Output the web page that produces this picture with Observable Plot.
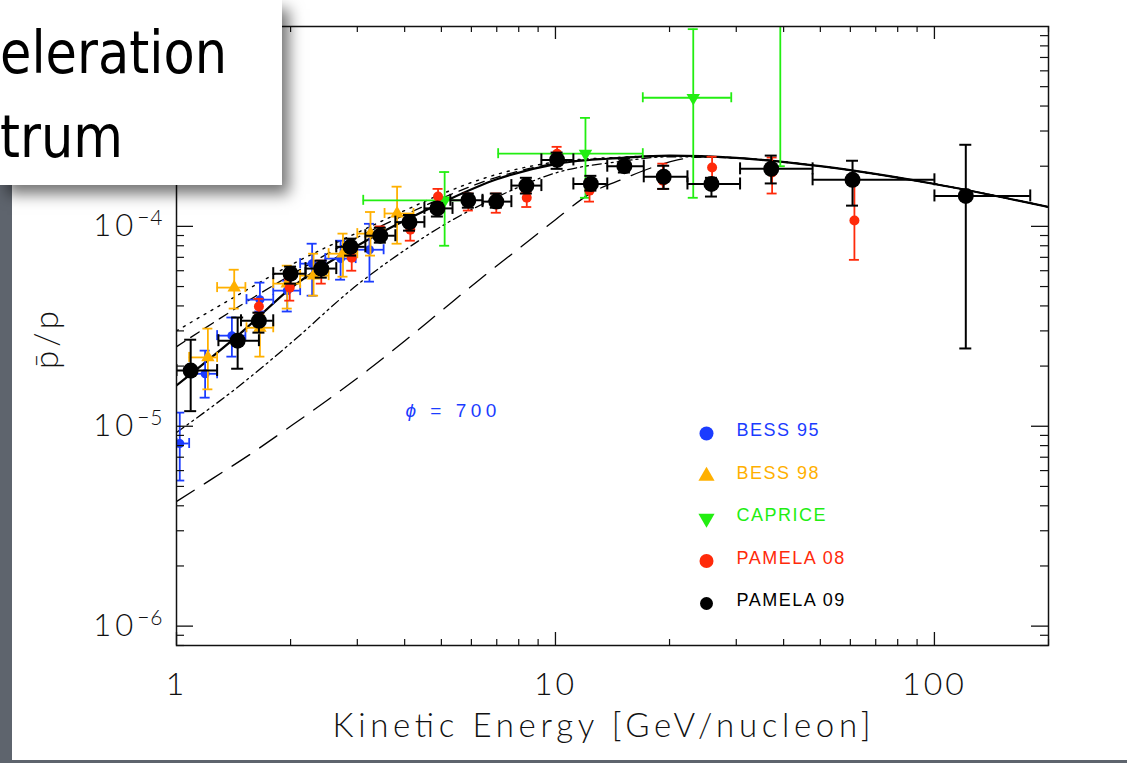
<!DOCTYPE html>
<html>
<head>
<meta charset="utf-8">
<script src="https://cdn.jsdelivr.net/npm/d3@7"></script>
<script src="https://cdn.jsdelivr.net/npm/@observablehq/plot@0.6"></script>
<style>
html,body{margin:0;padding:0;}
body{width:1127px;height:763px;background:#5e646d;position:relative;overflow:hidden;}
#panel{position:absolute;left:12px;top:0;width:1115px;height:760px;background:#fff;}
#chart{position:absolute;left:0;top:0;}
#titlebox{position:absolute;left:0;top:0;width:282px;height:185px;background:#fff;
  box-shadow:7px 9px 14px rgba(0,0,0,0.55);overflow:hidden;z-index:5;
  font-family:"DejaVu Sans",sans-serif;font-size:58px;line-height:1;color:#000;}
#titlebox .t{position:absolute;left:0;white-space:nowrap;transform:scaleX(0.88);transform-origin:0 0;}
#titlebox .t1{top:24px;}
#titlebox .t2{top:108px;}
</style>
</head>
<body>
<div id="panel"></div>
<div id="chart"></div>
<div id="titlebox"><div class="t t1">eleration</div><div class="t t2">trum</div></div>
<script>
// ---------- data (kinetic energy in GeV/nucleon, ratio pbar/p) ----------
// PAMELA 09
const pam09E   = [1.09,1.45,1.65,2.0,2.41,2.88,3.45,4.12,4.88,5.89,6.98,8.38,10.1,12.4,15.2,19.3,25.8,37.1,60.8,121];
const pam09ELo = [1.0,1.29,1.48,1.80,2.19,2.64,3.15,3.78,4.51,5.28,6.42,7.65,9.18,11.15,13.7,17.1,22.3,30.7,47.7,100];
const pam09EHi = [1.28,1.65,1.80,2.19,2.64,3.15,3.78,4.51,5.35,6.42,7.65,9.18,11.15,13.7,17.1,22.3,30.7,47.7,100,179];
const pam09R   = [1.9e-5,2.68e-5,3.37e-5,5.8e-5,6.15e-5,7.9e-5,8.98e-5,1.05e-4,1.23e-4,1.35e-4,1.33e-4,1.6e-4,2.15e-4,1.63e-4,2.0e-4,1.77e-4,1.63e-4,1.94e-4,1.71e-4,1.42e-4];
const pam09RLo = [1.19e-5,1.94e-5,2.94e-5,5.17e-5,5.54e-5,7.14e-5,8.29e-5,9.52e-5,1.12e-4,1.24e-4,1.24e-4,1.46e-4,1.94e-4,1.51e-4,1.86e-4,1.54e-4,1.41e-4,1.64e-4,1.27e-4,2.45e-5];
const pam09RHi = [2.71e-5,3.50e-5,3.70e-5,6.29e-5,6.74e-5,8.68e-5,9.85e-5,1.14e-4,1.31e-4,1.46e-4,1.46e-4,1.75e-4,2.34e-4,1.79e-4,2.18e-4,2.01e-4,1.75e-4,2.26e-4,2.13e-4,2.56e-4];

// PAMELA 08
const pam08E   = [1.65,1.99,2.41,2.9,3.45,4.14,4.9,5.89,6.98,8.4,10.1,12.3,19.2,25.9,37.3,61.5];
const pam08R   = [3.97e-5,4.94e-5,6.29e-5,6.97e-5,9.3e-5,9.63e-5,1.41e-4,1.37e-4,1.34e-4,1.39e-4,2.31e-4,1.51e-4,1.69e-4,1.97e-4,1.86e-4,1.07e-4];
const pam08RLo = [3.70e-5,4.25e-5,5.17e-5,6.0e-5,8.4e-5,8.48e-5,1.31e-4,1.2e-4,1.17e-4,1.25e-4,2.13e-4,1.33e-4,1.54e-4,1.69e-4,1.46e-4,6.8e-5];
const pam08RHi = [4.34e-5,5.41e-5,6.74e-5,7.74e-5,1.0e-4,1.07e-4,1.54e-4,1.46e-4,1.46e-4,1.47e-4,2.50e-4,1.64e-4,2.06e-4,2.23e-4,2.21e-4,1.69e-4];

// BESS 95
const bess95E   = [1.02,1.19,1.40,1.66,1.96,2.28,2.71,3.23];
const bess95ELo = [1.0,1.10,1.28,1.53,1.80,2.12,2.47,2.97];
const bess95EHi = [1.08,1.28,1.52,1.80,2.12,2.47,2.97,3.52];
const bess95R   = [8.2e-6,1.83e-5,2.84e-5,4.3e-5,4.77e-5,6.51e-5,6.9e-5,7.64e-5];
const bess95RLo = [5.35e-6,1.39e-5,2.23e-5,3.75e-5,3.75e-5,4.5e-5,5.41e-5,5.29e-5];
const bess95RHi = [1.17e-5,2.39e-5,3.50e-5,5.23e-5,5.35e-5,8.19e-5,8.48e-5,1.03e-4];

// BESS 98
const bess98E   = [1.21,1.42,1.66,1.96,2.3,2.75,3.25,3.82];
const bess98ELo = [1.08,1.28,1.53,1.80,2.12,2.52,3.0,3.54];
const bess98EHi = [1.28,1.52,1.80,2.12,2.52,3.0,3.54,4.22];
const bess98R   = [2.21e-5,4.94e-5,3.11e-5,5.17e-5,5.67e-5,7.3e-5,9.2e-5,1.16e-4];
const bess98RLo = [1.53e-5,3.88e-5,2.23e-5,3.88e-5,4.5e-5,5.6e-5,7.14e-5,8.19e-5];
const bess98RHi = [3.08e-5,6.07e-5,3.6e-5,6.36e-5,7.3e-5,9.2e-5,1.18e-4,1.58e-4];

// CAPRICE
const capriceE   = [5.1,12.0,23.1,39.2];
const capriceELo = [3.11,7.06,17.0,29.1];
const capriceEHi = [5.97,17.0,29.1,52];
const capriceR   = [1.35e-4,2.31e-4,4.4e-4,1.5e-3];
const capriceRLo = [8.0e-5,1.39e-4,1.39e-4,2.0e-4];
const capriceRHi = [1.87e-4,3.49e-4,9.7e-4,3e-3];

// model curves
const modelE      = [1,1.5,2,3,4,5,7,10,15,20,30,50,100,200];
const modelSolid  = [1.6e-5,3.0e-5,4.9e-5,8.0e-5,1.07e-4,1.31e-4,1.72e-4,2.05e-4,2.2e-4,2.26e-4,2.2e-4,2.0e-4,1.63e-4,1.25e-4];
const modelDotted = [3.0e-5,4.7e-5,6.4e-5,9.3e-5,1.2e-4,1.45e-4,1.82e-4,2.1e-4,2.22e-4,2.26e-4,2.2e-4,2.0e-4,1.63e-4,1.25e-4];
const modelShortDash = [2.5e-5,4.1e-5,5.7e-5,8.8e-5,1.14e-4,1.38e-4,1.76e-4,2.07e-4,2.21e-4,2.26e-4,2.2e-4,2.0e-4,1.63e-4,1.25e-4];
const modelDashDot = [9.3e-6,1.65e-5,2.6e-5,5.1e-5,7.6e-5,1.0e-4,1.4e-4,1.85e-4,2.12e-4,2.23e-4,2.2e-4,2.0e-4,1.63e-4,1.25e-4];
const longDashE   = [1,1.25,1.6,2,2.5,3.2,4,5,6.3,8,10,12.5,15,18,21,25,30,50,100,200];
const longDashR   = [4.2e-6,5.5e-6,7.45e-6,1.0e-5,1.35e-5,1.91e-5,2.67e-5,3.78e-5,5.41e-5,7.74e-5,1.08e-4,1.48e-4,1.72e-4,1.97e-4,2.15e-4,2.23e-4,2.2e-4,2.0e-4,1.63e-4,1.25e-4];

// axis ticks
const xMajor = [1,10,100];
const yMajor = [1e-6,1e-5,1e-4];

// legend
const legendNames   = ["BESS 95","BESS 98","CAPRICE","PAMELA 08","PAMELA 09"];
const legendColors  = ["#1b3cff","#ffb000","#22ee11","#ff2a0a","#000000"];
const legendSymbols = ["circle","triangle","triangle","circle","circle"];
const legendRotate  = [0,0,180,0,0];
const phiLabel = "ϕ = 700";
const xTitle = "Kinetic Energy [GeV/nucleon]";
const yTitle = "p̄/p";

// ---------- build ----------
const mk = (E, R, lo, hi, elo, ehi) => E.map((e,i)=>({e, r:R[i], lo:lo[i], hi:hi[i], elo: elo? elo[i]:null, ehi: ehi? ehi[i]:null}));
const pam09 = mk(pam09E,pam09R,pam09RLo,pam09RHi,pam09ELo,pam09EHi);
const pam08 = mk(pam08E,pam08R,pam08RLo,pam08RHi);
const bess95 = mk(bess95E,bess95R,bess95RLo,bess95RHi,bess95ELo,bess95EHi);
const bess98 = mk(bess98E,bess98R,bess98RLo,bess98RHi,bess98ELo,bess98EHi);
const caprice = mk(capriceE,capriceR,capriceRLo,capriceRHi,capriceELo,capriceEHi);
const curve = (E,R) => E.map((e,i)=>({e, r:R[i]}));

const xMinor = [], yMinor = [];
for (const k of [1,10,100]) for (let m=2;m<=9;m++) if (m*k<=200) xMinor.push(m*k);
for (const k of [1e-7,1e-6,1e-5,1e-4]) for (let m=2;m<=9;m++) { const v=m*k; if (v>=8e-7 && v<=1e-3) yMinor.push(v); }

const W = 1127, H = 763, mL = 176, mR = 79, mT = 26, mB = 118;
const FW = W - mL - mR, FH = H - mT - mB;

function errMarks(data, color, capW, hbars, sw=1.8) {
  const m = [
    Plot.ruleX(data, {x:"e", y1:"lo", y2:"hi", stroke:color, strokeWidth:sw, clip:true}),
    Plot.ruleY(data, {y:"lo", x1:"e", x2:"e", insetLeft:-capW, insetRight:-capW, stroke:color, strokeWidth:sw, clip:true}),
    Plot.ruleY(data, {y:"hi", x1:"e", x2:"e", insetLeft:-capW, insetRight:-capW, stroke:color, strokeWidth:sw, clip:true})
  ];
  if (hbars) {
    m.push(Plot.ruleY(data, {y:"r", x1:"elo", x2:"ehi", stroke:color, strokeWidth:sw, clip:true}));
    m.push(Plot.ruleX(data, {x:"elo", y1:"r", y2:"r", insetTop:-capW, insetBottom:-capW, stroke:color, strokeWidth:sw, clip:true}));
    m.push(Plot.ruleX(data, {x:"ehi", y1:"r", y2:"r", insetTop:-capW, insetBottom:-capW, stroke:color, strokeWidth:sw, clip:true}));
  }
  return m;
}

const lineMarks = [
  Plot.line(curve(longDashE,longDashR), {x:"e", y:"r", stroke:"#000", strokeWidth:1.3, strokeDasharray:"21,12", curve:"monotone-x", clip:true}),
  Plot.line(curve(modelE,modelDashDot), {x:"e", y:"r", stroke:"#000", strokeWidth:1.3, strokeDasharray:"9,4,2,4,2,4", curve:"monotone-x", clip:true}),
  Plot.line(curve(modelE,modelDotted), {x:"e", y:"r", stroke:"#000", strokeWidth:1.4, strokeDasharray:"2,6", curve:"monotone-x", clip:true}),
  Plot.line(curve(modelE,modelShortDash), {x:"e", y:"r", stroke:"#000", strokeWidth:1.3, strokeDasharray:"10,7", curve:"monotone-x", clip:true}),
  Plot.line(curve(modelE,modelSolid), {x:"e", y:"r", stroke:"#000", strokeWidth:2.2, curve:"monotone-x", clip:true})
];

const legendMarks = [];
legendNames.forEach((name,i)=>{
  const dy = 407 + i*42.5;
  legendMarks.push(Plot.dot([name], {frameAnchor:"top-left", dx:530, dy, r: i===4?6.5:(i===0||i===3?7:6),
    symbol: legendSymbols[i], rotate: legendRotate[i], fill: legendColors[i], stroke:"none"}));
  legendMarks.push(Plot.text([name], {frameAnchor:"top-left", lineAnchor:"middle", dx:560, dy: dy-3, text:d=>d, textAnchor:"start",
    fill: legendColors[i], fontSize:18, fontFamily:"Liberation Sans"}));
});

const tickRules = [
  Plot.ruleX(xMajor, {x:d=>d, insetTop:FH-13, stroke:"#111", strokeWidth:1.3}),
  Plot.ruleX(xMajor, {x:d=>d, insetBottom:FH-13, stroke:"#111", strokeWidth:1.3}),
  Plot.ruleX(xMinor, {x:d=>d, insetTop:FH-6, stroke:"#111", strokeWidth:1.2}),
  Plot.ruleX(xMinor, {x:d=>d, insetBottom:FH-6, stroke:"#111", strokeWidth:1.2}),
  Plot.ruleY(yMajor, {y:d=>d, insetRight:FW-17, stroke:"#111", strokeWidth:1.3}),
  Plot.ruleY(yMajor, {y:d=>d, insetLeft:FW-17, stroke:"#111", strokeWidth:1.3}),
  Plot.ruleY(yMinor, {y:d=>d, insetRight:FW-8, stroke:"#111", strokeWidth:1.2}),
  Plot.ruleY(yMinor, {y:d=>d, insetLeft:FW-8, stroke:"#111", strokeWidth:1.2})
];

const chart = Plot.plot({
  width: W, height: H,
  marginLeft: mL, marginRight: mR, marginTop: mT, marginBottom: mB,
  x: {type:"log", domain:[1,200]},
  y: {type:"log", domain:[8e-7,1e-3]},
  style: {background:"transparent", fontFamily:"Lato, sans-serif", overflow:"visible", color:"#111"},
  marks: [
    ...lineMarks,
    ...errMarks(bess95, "#1b3cff", 5, true),
    Plot.dot(bess95, {x:"e", y:"r", r:4.5, fill:"#1b3cff", clip:true}),
    ...errMarks(bess98, "#ffb000", 5, true),
    Plot.dot(bess98, {x:"e", y:"r", r:5, symbol:"triangle", fill:"#ffb000", clip:true}),
    ...errMarks(caprice, "#22ee11", 5, true),
    Plot.dot(caprice, {x:"e", y:"r", r:5, symbol:"triangle", rotate:180, fill:"#22ee11", clip:true}),
    ...errMarks(pam08, "#ff2a0a", 5, false),
    Plot.dot(pam08, {x:"e", y:"r", r:5, fill:"#ff2a0a", clip:true}),
    ...errMarks(pam09, "#000", 6, true, 2),
    Plot.dot(pam09, {x:"e", y:"r", r:8, fill:"#000", clip:true}),
    ...tickRules,
    Plot.frame({stroke:"#111", strokeWidth:1.5}),
    Plot.axisX({ticks:xMajor, tickSize:0, tickPadding:27, fontSize:32, fontWeight:300, tickFormat:d=>String(d), label:null}),
    Plot.axisY({ticks:yMajor, tickSize:0, tickPadding:13, fontSize:31, fontWeight:300, tickFormat:d=>"10^"+Math.round(Math.log10(d)), label:null}),
    Plot.text([xTitle], {frameAnchor:"bottom", lineAnchor:"middle", dx:-11, dy:81, text:d=>d, fontSize:33, fontWeight:300}),
    Plot.text([yTitle], {frameAnchor:"left", lineAnchor:"middle", dx:-129, dy:33, rotate:-90, text:d=>d, fontSize:33, fontWeight:300}),
    Plot.text([phiLabel], {frameAnchor:"top-left", lineAnchor:"middle", dx:229, dy:384, text:d=>d, textAnchor:"start", fill:"#1b3cff", fontSize:19, fontFamily:"Liberation Sans"}),
    ...legendMarks
  ]
});
document.getElementById("chart").appendChild(chart);

const NS = "http://www.w3.org/2000/svg";
// superscript exponents on y tick labels
chart.querySelectorAll('g[aria-label="y-axis tick label"] text').forEach(t=>{
  const s = t.textContent;
  if (!s.includes("^")) return;
  const [base, exp] = s.split("^");
  t.textContent = "";
  const a = document.createElementNS(NS,"tspan"); a.textContent = base; a.setAttribute("letter-spacing","4");
  const b = document.createElementNS(NS,"tspan"); b.textContent = "\u2212" + Math.abs(+exp);
  b.setAttribute("dy","-0.55em"); b.setAttribute("font-size","21"); b.setAttribute("letter-spacing","1");
  t.append(a,b);
});
// x tick labels: wider spacing like the original
chart.querySelectorAll('g[aria-label="x-axis tick label"] text').forEach(t=>{
  t.setAttribute("letter-spacing","3");
});
// letter spacing / widths for the other texts
chart.querySelectorAll("text").forEach(t=>{
  const s = t.textContent;
  if (s === xTitle) { t.setAttribute("textLength","538"); t.setAttribute("lengthAdjust","spacing"); }
  else if (s === yTitle) t.setAttribute("letter-spacing","4");
  else if (s === phiLabel) {
    t.setAttribute("letter-spacing","4.5");
    t.textContent = "";
    const p = document.createElementNS(NS,"tspan"); p.textContent = phiLabel.slice(0,1); p.setAttribute("font-style","italic");
    const q = document.createElementNS(NS,"tspan"); q.textContent = phiLabel.slice(1);
    t.append(p,q);
  }
  else if (legendNames.includes(s)) t.setAttribute("letter-spacing","1.5");
});
</script>
</body>
</html>
